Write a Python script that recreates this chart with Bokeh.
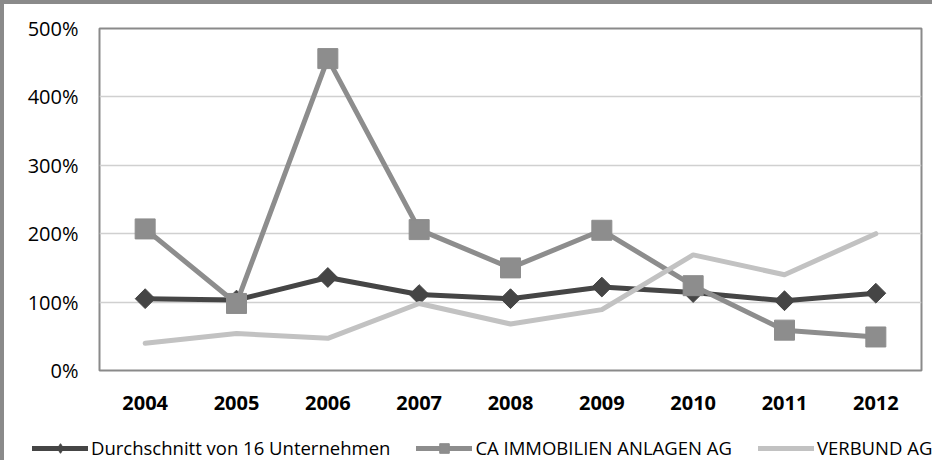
import math
from bokeh.plotting import figure
from bokeh.models import (FactorRange, Range1d, Legend, LegendItem, FixedTicker,
                          PrintfTickFormatter)
from bokeh.embed import file_html
from bokeh.resources import INLINE

years = ["2004", "2005", "2006", "2007", "2008", "2009", "2010", "2011", "2012"]
avg_16 = [105, 103, 136, 111, 105, 122, 114, 102, 113]
ca_immo = [207, 98, 456, 206, 150, 205, 124, 59, 49]
verbund = [40, 54, 47, 98, 68, 89, 169, 140, 200]
series_names = ["Durchschnitt von 16 Unternehmen", "CA IMMOBILIEN ANLAGEN AG", "VERBUND AG"]
y_ticks = [0, 100, 200, 300, 400, 500]

FONT = "Open Sans"
C_DARK = "#454545"
C_MID = "#8d8d8d"
C_LIGHT = "#c2c2c2"
C_FRAME = "#8a8a8a"

p = figure(width=932, height=424,
           x_range=FactorRange(*years, range_padding=0),
           y_range=Range1d(0, 500),
           output_backend="svg", toolbar_location=None,
           min_border_left=95, min_border_right=15,
           min_border_top=24, min_border_bottom=58)
p.styles = {"border-top": "4px solid " + C_FRAME, "border-left": "4px solid " + C_FRAME}

p.background_fill_color = "white"
p.border_fill_color = "white"
p.outline_line_color = C_FRAME
p.outline_line_width = 2

p.xgrid.grid_line_color = None
p.ygrid.grid_line_color = "#d0d0d0"
p.ygrid.grid_line_width = 1.5

p.yaxis.ticker = FixedTicker(ticks=y_ticks)
p.yaxis.formatter = PrintfTickFormatter(format="%d%%")
for ax in (p.xaxis, p.yaxis):
    ax.axis_line_color = None
    ax.major_tick_line_color = None
    ax.minor_tick_line_color = None
    ax.major_tick_out = 0
    ax.major_tick_in = 0
    ax.major_label_text_font = FONT
    ax.major_label_text_font_size = "20px"
    ax.major_label_text_color = "black"
p.yaxis.major_label_standoff = 21
p.xaxis.major_label_standoff = 25
p.xaxis.major_label_text_font_style = "bold"

def draw(fig, visible=True, legend_markers=False):
    l1 = fig.line(years, avg_16, line_color=C_DARK, line_width=5, line_join="round",
                  line_cap="round", visible=visible)
    if legend_markers:
        s1 = fig.scatter(years, avg_16, marker="diamond", size=14,
                         fill_color=C_DARK, line_color=C_DARK, visible=visible)
    else:
        s1 = fig.scatter(years, avg_16, marker="square", size=14, angle=math.pi / 4,
                         fill_color=C_DARK, line_color=C_DARK, visible=visible)
    l2 = fig.line(years, ca_immo, line_color=C_MID, line_width=5, line_join="round",
                  line_cap="round", visible=visible)
    s2 = fig.scatter(years, ca_immo, marker="square", size=20,
                     fill_color=C_MID, line_color=C_MID, visible=visible)
    l3 = fig.line(years, verbund, line_color=C_LIGHT, line_width=5, line_join="round",
                  line_cap="round", visible=visible)
    return l1, s1, l2, s2, l3

draw(p)

# legend strip below the chart (separate root, full width, so nothing is clipped)
leg = figure(width=932, height=36, output_backend="svg", toolbar_location=None,
             x_range=FactorRange(*years, range_padding=0), y_range=Range1d(0, 500),
             x_axis_type=None, y_axis_type=None,
             min_border_left=0, min_border_right=0, min_border_top=0, min_border_bottom=0)
leg.styles = {"border-left": "4px solid " + C_FRAME}
leg.outline_line_color = None
leg.xgrid.grid_line_color = None
leg.ygrid.grid_line_color = None
k1, t1, k2, t2, k3 = draw(leg, visible=False, legend_markers=True)

legend = Legend(items=[
    LegendItem(label=series_names[0], renderers=[k1, t1]),
    LegendItem(label=series_names[1], renderers=[k2, t2]),
    LegendItem(label=series_names[2], renderers=[k3]),
], orientation="horizontal", location=(28, 0))
legend.glyph_width = 56
legend.glyph_height = 24
legend.label_standoff = 3
legend.spacing = 26
legend.padding = 0
legend.margin = 0
legend.border_line_color = None
legend.background_fill_alpha = 0
legend.inactive_fill_alpha = 0
legend.label_text_font = FONT
legend.label_text_font_size = "18.5px"
legend.label_text_color = "black"
leg.add_layout(legend)

open("out.html", "w").write(file_html([p, leg], INLINE))
